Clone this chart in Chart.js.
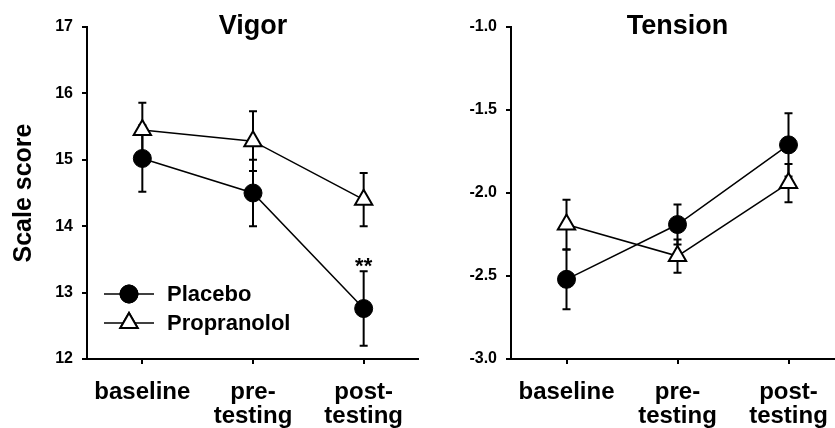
<!DOCTYPE html>
<html>
<head>
<meta charset="utf-8">
<script src="https://cdn.jsdelivr.net/npm/chart.js@4"></script>
<style>
  html, body { margin: 0; padding: 0; background: #fff; overflow: hidden; width: 835px; height: 428px; }
  #left { position: absolute; left: 0; top: 0; }
  #right { position: absolute; left: 420px; top: 0; }
</style>
</head>
<body>
<canvas id="left" width="419" height="428"></canvas>
<canvas id="right" width="424" height="428"></canvas>
<script>
var categories = ["baseline", ["pre-", "testing"], ["post-", "testing"]];

var vigorPlacebo = [15.02, 14.5, 12.76];
var vigorPlaceboErr = [0.5, 0.5, 0.56];
var vigorPropranolol = [15.45, 15.28, 14.4];
var vigorPropranololErr = [0.41, 0.45, 0.4];

var tensionPlacebo = [-2.52, -2.19, -1.71];
var tensionPlaceboErr = [0.18, 0.12, 0.19];
var tensionPropranolol = [-2.19, -2.38, -1.94];
var tensionPropranololErr = [0.15, 0.1, 0.115];

var vigorTicks = [12, 13, 14, 15, 16, 17];
var tensionTicks = [-3.0, -2.5, -2.0, -1.5, -1.0];

var FONT = "'Liberation Sans', Arial, sans-serif";
Chart.defaults.font.family = FONT;
Chart.defaults.color = "#000";

// error bars go under the lines and markers
var errorBars = {
  id: "errorBars",
  beforeDatasetsDraw(chart) {
    var ctx = chart.ctx;
    var y = chart.scales.y;
    ctx.save();
    ctx.strokeStyle = "#000";
    ctx.lineWidth = 2;
    chart.data.datasets.forEach((ds, i) => {
      chart.getDatasetMeta(i).data.forEach((pt, j) => {
        var top = y.getPixelForValue(ds.data[j] + ds.errors[j]);
        var bot = y.getPixelForValue(ds.data[j] - ds.errors[j]);
        ctx.beginPath();
        ctx.moveTo(pt.x, top); ctx.lineTo(pt.x, bot);
        ctx.moveTo(pt.x - 4, top); ctx.lineTo(pt.x + 4, top);
        ctx.moveTo(pt.x - 4, bot); ctx.lineTo(pt.x + 4, bot);
        ctx.stroke();
      });
    });
    ctx.restore();
  }
};

var panelTitle = {
  id: "panelTitle",
  afterDraw(chart, args, opts) {
    var ctx = chart.ctx;
    var a = chart.chartArea;
    ctx.save();
    ctx.font = "bold 27px " + FONT;
    ctx.fillStyle = "#000";
    ctx.textAlign = "center";
    ctx.textBaseline = "alphabetic";
    ctx.fillText(opts.text, (a.left + a.right) / 2, 34);
    ctx.restore();
  }
};

// legend drawn inside the vigor panel, plus the ** mark
var vigorExtras = {
  id: "vigorExtras",
  afterDraw(chart) {
    var ctx = chart.ctx;
    ctx.save();
    ctx.font = "bold 22px " + FONT;
    ctx.textBaseline = "middle";
    chart.data.datasets.forEach((ds, i) => {
      var ly = 294 + i * 29;
      ctx.strokeStyle = "#000";
      ctx.lineWidth = 1.5;
      ctx.beginPath();
      ctx.moveTo(104, ly); ctx.lineTo(154, ly);
      ctx.stroke();
      ctx.lineWidth = ds.pointBorderWidth;
      Chart.helpers.drawPoint(ctx, {
        pointStyle: ds.pointStyle, radius: ds.pointRadius, borderWidth: ds.pointBorderWidth
      }, 129, ly);
      ctx.fillStyle = ds.pointBackgroundColor;
      ctx.fill();
      ctx.stroke();
      ctx.fillStyle = "#000";
      ctx.fillText(ds.label, 167, ly + 1);
    });
    var pt = chart.getDatasetMeta(0).data[2];
    var yy = chart.scales.y.getPixelForValue(vigorPlacebo[2] + vigorPlaceboErr[2]);
    ctx.textAlign = "center";
    ctx.textBaseline = "alphabetic";
    ctx.fillText("**", pt.x, yy + 2);
    ctx.restore();
  }
};

function makeChart(id, title, placebo, placeboErr, prop, propErr, ticks, decimals, yTitle, yWidth, extra) {
  var plugins = [errorBars, panelTitle];
  if (extra) plugins.push(extra);
  return new Chart(id, {
    type: "line",
    data: {
      labels: categories,
      datasets: [
        {
          label: "Placebo",
          data: placebo,
          errors: placeboErr,
          borderColor: "#000",
          borderWidth: 1.5,
          pointStyle: "circle",
          pointRadius: 9,
          pointBackgroundColor: "#000",
          pointBorderColor: "#000",
          pointBorderWidth: 1,
          tension: 0
        },
        {
          label: "Propranolol",
          data: prop,
          errors: propErr,
          borderColor: "#000",
          borderWidth: 1.5,
          pointStyle: "triangle",
          pointRadius: 10,
          pointBackgroundColor: "#fff",
          pointBorderColor: "#000",
          pointBorderWidth: 2,
          tension: 0
        }
      ]
    },
    options: {
      responsive: false,
      animation: false,
      events: [],
      layout: { autoPadding: false, padding: { top: 27, left: 0, right: 0, bottom: 0 } },
      plugins: {
        legend: { display: false },
        tooltip: { enabled: false },
        panelTitle: { text: title }
      },
      scales: {
        x: {
          type: "category",
          offset: true,
          afterFit: (s) => { s.height = 69; s.paddingLeft = 0; s.paddingRight = 0; },
          border: { display: true, color: "#000", width: 2 },
          grid: { drawOnChartArea: false, tickLength: 5, color: "#000", lineWidth: 2 },
          ticks: {
            color: "#000",
            font: { size: 24, weight: "bold", lineHeight: 1.0 },
            padding: 16,
            maxRotation: 0,
            autoSkip: false
          }
        },
        y: {
          min: ticks[0],
          max: ticks[ticks.length - 1],
          afterBuildTicks: (s) => { s.ticks = ticks.map((v) => ({ value: v })); },
          afterFit: (s) => { s.width = yWidth; },
          border: { display: true, color: "#000", width: 2 },
          grid: { drawOnChartArea: false, tickLength: 5, color: "#000", lineWidth: 2 },
          ticks: {
            color: "#000",
            font: { size: 16, weight: "bold" },
            padding: 9,
            callback: (v) => Number(v).toFixed(decimals)
          },
          title: {
            display: !!yTitle,
            text: yTitle,
            color: "#000",
            font: { size: 25, weight: "bold" },
            padding: { top: 9, bottom: 0 }
          }
        }
      }
    },
    plugins: plugins
  });
}

makeChart("left", "Vigor", vigorPlacebo, vigorPlaceboErr, vigorPropranolol, vigorPropranololErr,
  vigorTicks, 0, "Scale score", 87, vigorExtras);
makeChart("right", "Tension", tensionPlacebo, tensionPlaceboErr, tensionPropranolol, tensionPropranololErr,
  tensionTicks, 1, "", 91, null);
</script>
</body>
</html>
